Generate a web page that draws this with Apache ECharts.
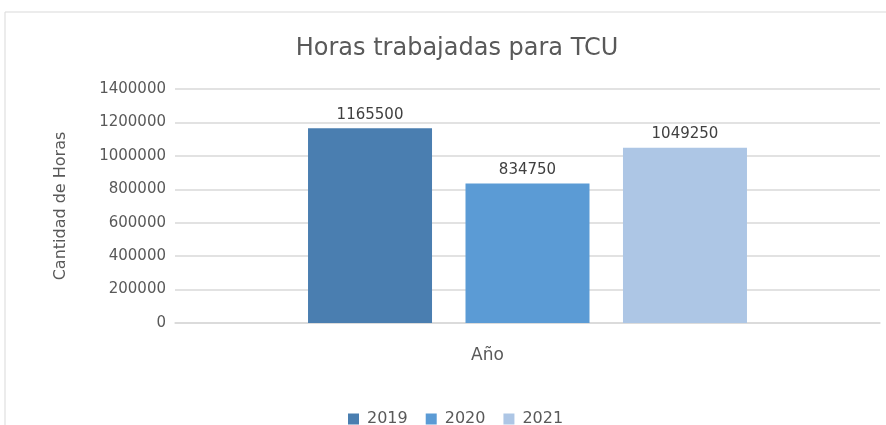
<!DOCTYPE html>
<html>
<head>
<meta charset="utf-8">
<script src="https://cdn.jsdelivr.net/npm/echarts@6/dist/echarts.min.js"></script>
<style>html,body{margin:0;padding:0;background:#fff}#c{width:886px;height:425px}</style>
</head>
<body>
<div id="c"></div>
<script>
const categories = ['Año'];
const seriesNames = ['2019', '2020', '2021'];
const values2019 = [1165500];
const values2020 = [834750];
const values2021 = [1049250];
const seriesValues = [values2019, values2020, values2021];
const colors = ['#4a7eb0', '#5b9bd5', '#adc6e5'];

const chart = echarts.init(document.getElementById('c'), null, {renderer: 'canvas'});
const font = 'DejaVu Sans';
chart.setOption({
  animation: false,
  backgroundColor: '#fff',
  title: {
    text: 'Horas trabajadas para TCU',
    left: 452, textAlign: 'center', top: 32,
    textStyle: {fontFamily: font, fontSize: 24, fontWeight: 'normal', color: '#595959'}
  },
  legend: {
    top: 406, left: 343,
    itemWidth: 11, itemHeight: 11, itemGap: 18, icon: 'rect',
    textStyle: {fontFamily: font, fontSize: 16, color: '#595959', padding: [0, 0, 0, 3]},
    data: seriesNames
  },
  grid: {left: 175, right: 6, top: 89, bottom: 102, containLabel: false},
  xAxis: {
    type: 'category', data: categories,
    axisLine: {show: true, lineStyle: {color: '#d9d9d9', width: 1.5}},
    axisTick: {show: false},
    axisLabel: {margin: 24, fontFamily: font, fontSize: 17, color: '#595959', padding: [0, 80, 0, 0]}
  },
  yAxis: {
    type: 'value', min: 0, max: 1400000, interval: 200000,
    name: 'Cantidad de Horas', nameLocation: 'middle', nameGap: 106, nameRotate: 90,
    nameTextStyle: {fontFamily: font, fontSize: 16, color: '#595959'},
    axisLine: {show: false}, axisTick: {show: false},
    axisLabel: {margin: 9, fontFamily: font, fontSize: 15, color: '#595959', formatter: v => String(v)},
    splitLine: {lineStyle: {color: '#d9d9d9', width: 1.5}}
  },
  series: seriesNames.map((n, i) => ({
    name: n, type: 'bar', data: seriesValues[i],
    barWidth: 124, barGap: '27%',
    itemStyle: {color: colors[i]},
    label: {show: true, position: 'top', distance: 6, fontFamily: font, fontSize: 15, color: '#404040'}
  })),
  graphic: [{
    type: 'rect', shape: {x: 5, y: 12, width: 900, height: 430},
    style: {fill: 'none', stroke: '#d9d9d9', lineWidth: 1}, silent: true, z: -1
  }]
});
</script>
</body>
</html>
